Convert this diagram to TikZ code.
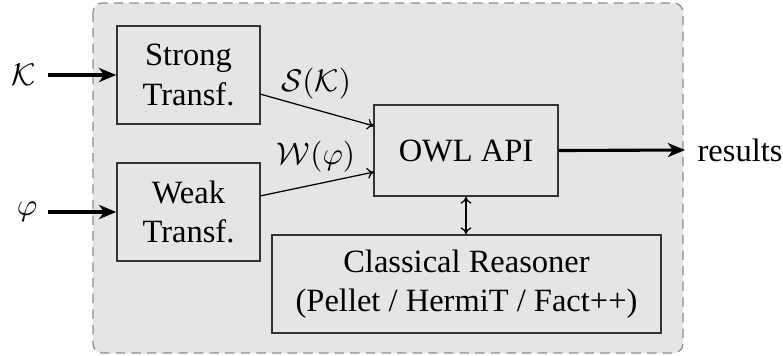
\documentclass[tikz,border=0pt]{standalone}
\usepackage[no-math]{fontspec}
\setmainfont{Liberation Serif}
\usetikzlibrary{arrows.meta}
\begin{document}
\begin{tikzpicture}[x=0.32pt,y=-0.32pt,
  blk/.style={draw=black!80,line width=0.5pt,inner sep=0pt,align=center,font=\fontsize{10.4}{12.6}\selectfont},
  bigarrow/.style={-{Stealth[length=5.5pt,width=4.5pt,inset=1.6pt]},line width=1pt},
  smallarrow/.style={-{To[length=2.2pt,width=3.5pt]},line width=0.4pt},
  lbl/.style={font=\fontsize{10.4}{12.6}\selectfont,inner sep=0pt}]
\useasboundingbox (0,0) rectangle (783,355);
\draw[fill=black!10,draw=black!45,dashed,dash pattern=on 3pt off 2pt,line width=0.4pt,rounded corners=3pt] (93,3) rectangle (683,353);
\node[blk,minimum width=143*0.32pt,minimum height=98*0.32pt] (strong) at (188.5,75) {Strong\\Transf.};
\node[blk,minimum width=143*0.32pt,minimum height=98*0.32pt] (weak) at (188.5,212) {Weak\\Transf.};
\node[blk,minimum width=184*0.32pt,minimum height=91*0.32pt] (owl) at (466,150.5) {OWL API};
\node[blk,minimum width=389*0.32pt,minimum height=98*0.32pt] (cr) at (466.5,284) {Classical Reasoner\\(Pellet / HermiT / Fact++)};
\node[lbl] (K) at (24,75) {$\mathcal{K}$};
\node[lbl] (phi) at (27,212) {$\varphi$};
\node[lbl,anchor=west] (res) at (697,150) {results};
\coordinate (resend) at (685,150);
\coordinate (Ks) at (48,75);
\coordinate (phis) at (48,212);
\draw[bigarrow] (Ks) -- (strong.west);
\draw[bigarrow] (phis) -- (weak.west);
\draw[bigarrow] (owl.east) -- (resend);
\coordinate (s1) at (260,94);
\coordinate (s2) at (374,126);
\coordinate (w1) at (260,196);
\coordinate (w2) at (374,172);
\draw[smallarrow] (s1) -- (s2);
\draw[smallarrow] (w1) -- (w2);
\node[lbl] (SK) at (316,84) {$\mathcal{S}(\mathcal{K})$};
\node[lbl] (Wp) at (316,157) {$\mathcal{W}(\varphi)$};
\draw[{To[length=2.2pt,width=3.5pt]}-{To[length=2.2pt,width=3.5pt]},line width=0.4pt] (owl.south) -- (owl.south |- cr.north);
\end{tikzpicture}
\end{document}
